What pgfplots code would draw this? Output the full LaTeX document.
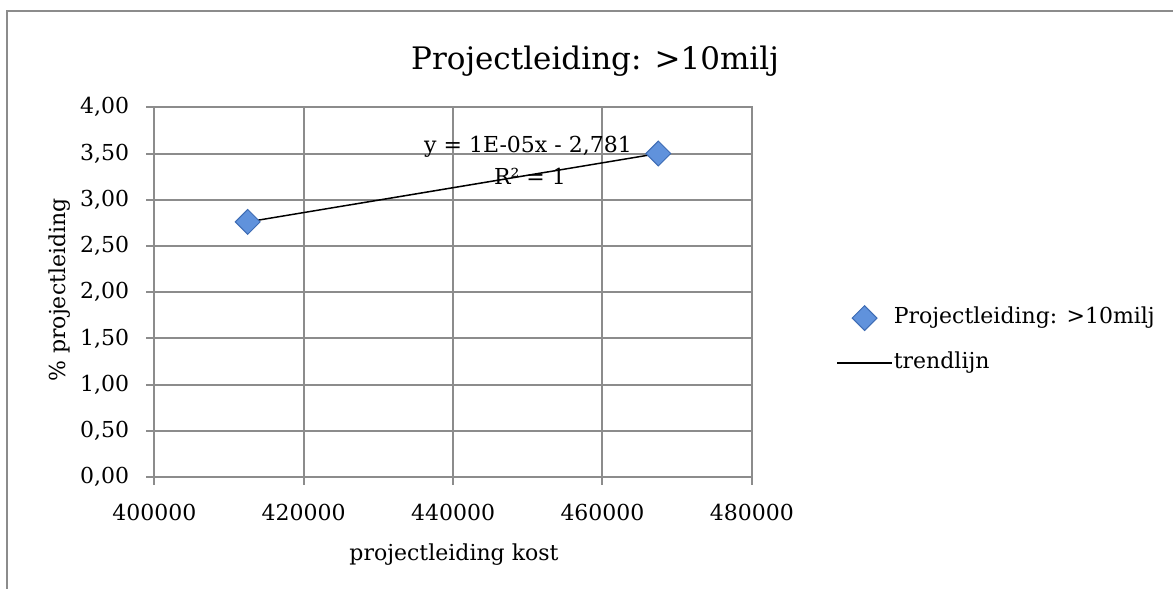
\documentclass[border=0pt]{standalone}
\usepackage{pgfplots}
\pgfplotsset{compat=1.18}
\usepackage{fontspec}
\setmainfont{DejaVu Serif}

\definecolor{gridgray}{RGB}{140,140,140}
\definecolor{markfill}{RGB}{96,146,220}
\definecolor{markdraw}{RGB}{62,108,180}

\pgfplotsset{
  trendleg/.style={legend image code/.code={\draw[##1] (0pt,0pt) -- (27.5pt,0pt);}},
  markleg/.style={legend image code/.code={%
    \path (0pt,0pt) (27.5pt,0pt);
    \draw[##1] plot coordinates {(13.75pt,0pt)};}},
}

\begin{document}
\begin{tikzpicture}
\useasboundingbox (0pt,0pt) rectangle (586.5pt,294.5pt);
% chart area frame
\draw[gridgray, line width=1pt] (3.65pt,-5pt) -- (3.65pt,289.15pt) -- (600pt,289.15pt);

\begin{axis}[
  at={(77.15pt,56pt)}, anchor=south west,
  scale only axis, width=298.8pt, height=184.85pt,
  xmin=400000, xmax=480000, ymin=0, ymax=4,
  xtick={400000,420000,440000,460000,480000},
  ytick={0,0.5,1,1.5,2,2.5,3,3.5,4},
  scaled x ticks=false,
  grid=major,
  grid style={gridgray, line width=1pt},
  axis line style={gridgray, line width=1pt},
  tick style={gridgray, line width=1pt},
  tick align=outside, tick pos=left,
  major tick length=4pt,
  ticklabel style={font=\fontsize{11}{13}\selectfont, text=black},
  /pgf/number format/assume math mode=true,
  xticklabel style={yshift=-6pt, /pgf/number format/.cd, fixed, precision=0, 1000 sep={}},
  yticklabel style={xshift=-5pt, /pgf/number format/.cd, fixed, fixed zerofill, precision=2, use comma},
  xlabel={projectleiding kost},
  ylabel={\% projectleiding},
  label style={font=\fontsize{11}{13}\selectfont},
  xlabel style={at={(axis description cs:0.5015,-0.211)}, anchor=center},
  ylabel style={at={(axis description cs:-0.158,0.506)}, anchor=center, rotate=0},
  title={Projectleiding: >10milj},
  every axis title shift=0pt,
  title style={at={(axis description cs:0.7375,1.125)}, anchor=center, font=\fontsize{15.5}{18}\selectfont},
  legend style={draw=none, fill=none, at={(axis description cs:1.1306,0.369)}, anchor=west,
    font=\fontsize{11}{13}\selectfont, row sep=8pt,
    nodes={inner ysep=2pt, inner xsep=0.5pt, text height=8pt, text depth=2.5pt}},
  legend cell align=left,
  clip=false,
]
\addplot[only marks, mark=square*, mark size=4.4pt,
  mark options={rotate=45, fill=markfill, draw=markdraw, line width=0.5pt}, markleg]
  coordinates {(412500,2.76) (467470,3.50)};
\addlegendentry{Projectleiding: >10milj}

\addplot[black, line width=0.75pt, forget plot]
  coordinates {(412500,2.76) (467470,3.50)};
\addlegendimage{black, line width=0.75pt, trendleg}
\addlegendentry{trendlijn}

\node[font=\fontsize{11}{13}\selectfont, anchor=center] at (axis cs:450027,3.575) {y = 1E-05x - 2,781};
\node[font=\fontsize{11}{13}\selectfont, anchor=center] at (axis cs:450295,3.25) {R² = 1};
\end{axis}
\end{tikzpicture}
\end{document}
